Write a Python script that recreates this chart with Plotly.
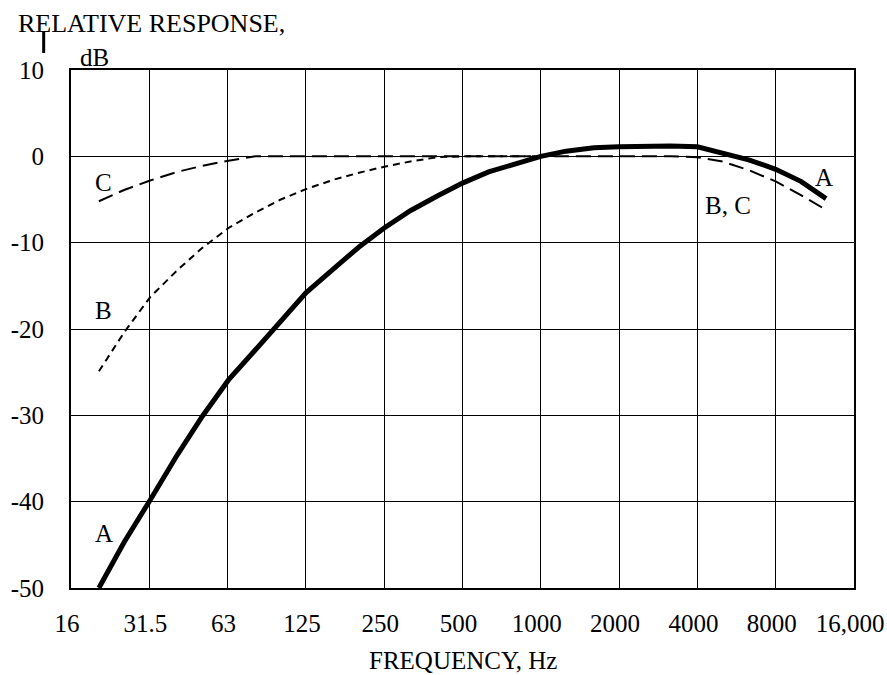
import math
import plotly.graph_objects as go

# ---- data ----
freq_a = [20, 25, 31.5, 40, 50, 63, 80, 100, 125, 160, 200, 250, 315, 400, 500, 630, 800,
          1000, 1250, 1600, 2000, 2500, 3150, 4000, 5000, 6300, 8000, 10000, 12500]
resp_a = [-50.0, -44.7, -39.8, -34.6, -30.1, -25.9, -22.4, -19.0, -15.8, -13.0, -10.5, -8.3,
          -6.3, -4.6, -3.1, -1.8, -0.8, 0.0, 0.6, 1.0, 1.1, 1.2, 1.2, 1.1, 0.4, -0.4, -1.5,
          -2.9, -4.9]

freq_b = [20, 25, 31.5, 40, 50, 63, 80, 100, 125, 160, 200, 250, 315, 400, 500, 630, 800, 1000]
resp_b = [-24.9, -20.4, -16.3, -13.2, -10.6, -8.3, -6.5, -5.0, -3.8, -2.7, -1.9, -1.2, -0.6,
          -0.1, 0.0, 0.0, 0.0, 0.0]

freq_c = [20, 25, 31.5, 40, 50, 63, 80, 100, 125, 250, 500, 1000, 2000, 3150, 4000, 5000,
          6300, 8000, 10000, 12500]
resp_c = [-5.2, -3.9, -2.8, -1.8, -1.1, -0.5, 0.0, 0.0, 0.0, 0.0, 0.0, 0.0, 0.0, 0.0, -0.1,
          -0.6, -1.6, -2.9, -4.5, -6.2]

x_tick_vals = [15.625, 31.25, 62.5, 125, 250, 500, 1000, 2000, 4000, 8000, 16000]
x_tick_text = ["16", "31.5", "63", "125", "250", "500", "1000", "2000", "4000", "8000", "16,000"]
y_tick_vals = [10, 0, -10, -20, -30, -40, -50]
y_tick_text = ["10", "0", "-10", "-20", "-30", "-40", "-50"]

curve_labels = [
    ("C", 20.9, -3.0),
    ("B", 20.9, -17.8),
    ("A", 20.9, -43.7),
    ("A", 12270, -2.4),
    ("B, C", 5245, -5.7),
]

FONT = "Liberation Serif, Times New Roman, serif"

fig = go.Figure()
fig.add_trace(go.Scatter(x=freq_c, y=resp_c, mode="lines",
                         line=dict(color="black", width=2, dash="15px,7px"),
                         showlegend=False, hoverinfo="skip"))
fig.add_trace(go.Scatter(x=freq_b, y=resp_b, mode="lines",
                         line=dict(color="black", width=2, dash="7px,5px"),
                         showlegend=False, hoverinfo="skip"))
fig.add_trace(go.Scatter(x=freq_a, y=resp_a, mode="lines",
                         line=dict(color="black", width=5),
                         showlegend=False, hoverinfo="skip"))

annotations = []
for txt, fx, fy in curve_labels:
    annotations.append(dict(x=math.log10(fx), y=fy, xref="x", yref="y", text=txt,
                            showarrow=False, xanchor="center", yanchor="middle",
                            font=dict(family=FONT, size=25, color="black")))

annotations += [
    dict(x=0.103, y=1.089, xref="paper", yref="paper", text="RELATIVE RESPONSE,",
         showarrow=False, xanchor="center", yanchor="middle",
         font=dict(family=FONT, size=26, color="black")),
    dict(x=0.0294, y=1.025, xref="paper", yref="paper", text="dB",
         showarrow=False, xanchor="center", yanchor="middle",
         font=dict(family=FONT, size=25, color="black")),
    dict(x=0.5006, y=-0.139, xref="paper", yref="paper", text="FREQUENCY, Hz",
         showarrow=False, xanchor="center", yanchor="middle",
         font=dict(family=FONT, size=25, color="black")),
]

fig.update_layout(
    width=887, height=675,
    margin=dict(l=71, r=33, t=70, b=87, autoexpand=False),
    paper_bgcolor="white", plot_bgcolor="white",
    annotations=annotations,
    shapes=[dict(type="line", xref="paper", yref="paper",
                 x0=-0.0349, x1=-0.0349, y0=1.0328, y1=1.0734,
                 line=dict(color="black", width=3))],
    xaxis=dict(type="log", range=[math.log10(15.625) - 1e-5, math.log10(16000) + 1e-5],
               tickvals=x_tick_vals, ticktext=x_tick_text,
               showgrid=True, gridcolor="black", gridwidth=1.3,
               showline=True, linecolor="black", linewidth=2, mirror=True,
               ticks="outside", ticklen=12, tickcolor="rgba(0,0,0,0)",
               ticklabeloverflow="allow", ticklabelshift=-4, automargin=False,
               tickfont=dict(family=FONT, size=25, color="black"),
               zeroline=False),
    yaxis=dict(range=[-50, 10], tickvals=y_tick_vals, ticktext=y_tick_text,
               showgrid=True, gridcolor="black", gridwidth=1.3,
               showline=True, linecolor="black", linewidth=2, mirror=True,
               ticks="outside", ticklen=20, tickcolor="rgba(0,0,0,0)",
               automargin=False,
               tickfont=dict(family=FONT, size=25, color="black"),
               zeroline=False),
)

fig.write_html("out.html", config={"displayModeBar": False},
               post_script="document.body.style.margin='0';document.body.style.overflow='hidden';")
